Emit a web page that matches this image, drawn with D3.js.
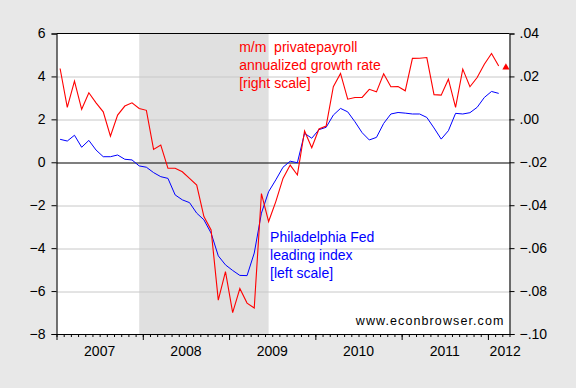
<!DOCTYPE html>
<html>
<head>
<meta charset="utf-8">
<script src="https://cdn.jsdelivr.net/npm/d3@7"></script>
<style>
  body { margin: 0; background: #e8e8e8; }
  svg { display: block; font-family: "Liberation Sans", Arial, sans-serif; }
</style>
</head>
<body>
<script>
// monthly data, first obs 2007M01
var startYear = 2007;
var years = [2007, 2008, 2009, 2010, 2011, 2012];

// Philadelphia Fed leading index (left scale)
var phillyLeading = [1.07, 0.99, 1.26, 0.70, 1.02, 0.57, 0.26, 0.26, 0.34, 0.14,
  0.11, -0.17, -0.23, -0.48, -0.67, -0.75, -1.52, -1.75, -1.88, -2.37,
  -2.68, -3.30, -4.36, -4.78, -5.04, -5.27, -5.28, -4.23, -2.37, -1.37,
  -0.82, -0.23, 0.05, -0.02, 1.35, 1.12, 1.52, 1.63, 2.20, 2.51,
  2.35, 1.89, 1.38, 1.04, 1.16, 1.81, 2.25, 2.32, 2.29, 2.25,
  2.25, 2.09, 1.60, 1.08, 1.47, 2.28, 2.25, 2.31, 2.56, 3.02,
  3.30, 3.21];

// m/m private payroll, annualized growth rate (right scale)
var payrollGrowth = [.0237, .0056, .0178, .0047, .0124, .0077, .0035, -.0078, .0020, .0062,
  .0077, .0051, .0042, -.0140, -.0120, -.0228, -.0228, -.0244, -.0275, -.0306,
  -.0453, -.0515, -.0842, -.0709, -.0900, -.0788, -.0856, -.0879, -.0346, -.0476,
  -.0383, -.0275, -.0213, -.0259, -.0054, -.0132, -.0045, -.0031, .0152, .0214,
  .0094, .0102, .0102, .0140, .0128, .0212, .0152, .0153, .0133, .0284,
  .0285, .0288, .0115, .0113, .0187, .0056, .0234, .0152, .0195, .0257,
  .0307, .0249];
// latest (single) observation, 2012M03
var payrollLatest = {month: 62, value: .0242};

// NBER recession, month index (2007M12 .. 2009M06)
var recession = [11, 29];

var leftTicks = [6, 4, 2, 0, -2, -4, -6, -8];
var rightTicks = [.04, .02, .00, -.02, -.04, -.06, -.08, -.10];

var W = 576, H = 388;
var margin = {top: 33.5, right: 66.5, bottom: 54, left: 56.5},
    width = W - margin.left - margin.right,
    height = H - margin.top - margin.bottom;

var nMonths = 63; // 2007M01 .. 2012M03

var svg = d3.select("body").append("svg")
    .attr("width", W)
    .attr("height", H);

svg.append("rect").attr("width", W).attr("height", H).attr("fill", "#e8e8e8");

var x = d3.scaleLinear().domain([0, nMonths]).range([0, width]);
var yL = d3.scaleLinear().domain([-8, 6]).range([height, 0]);
var yR = d3.scaleLinear().domain([-.10, .04]).range([height, 0]);

var g = svg.append("g")
    .attr("transform", "translate(" + margin.left + "," + margin.top + ")");

// plot background
g.append("rect")
    .attr("width", width)
    .attr("height", height)
    .attr("fill", "#fff");

// recession shading (mid-month to mid-month)
g.append("rect")
    .attr("x", x(recession[0] + 0.5))
    .attr("width", x(recession[1] + 0.5) - x(recession[0] + 0.5))
    .attr("y", 0)
    .attr("height", height)
    .attr("fill", "#e0e0e0");

// grid lines
g.selectAll(".grid")
    .data(leftTicks.filter(function(d) { return d !== 0 && d !== 6 && d !== -8; }))
    .enter().append("line")
    .attr("x1", 0).attr("x2", width)
    .attr("y1", function(d) { return Math.round(yL(d)) + 0.5; })
    .attr("y2", function(d) { return Math.round(yL(d)) + 0.5; })
    .attr("stroke", "#c8c8c8")
    .attr("stroke-width", 1);

// zero line
g.append("line")
    .attr("x1", 0).attr("x2", width)
    .attr("y1", Math.round(yL(0)) + 0.5)
    .attr("y2", Math.round(yL(0)) + 0.5)
    .attr("stroke", "#000")
    .attr("stroke-width", 1.1);

// series
var lineL = d3.line()
    .x(function(d, i) { return x(i + 0.5); })
    .y(function(d) { return yL(d); });
var lineR = d3.line()
    .x(function(d, i) { return x(i + 0.5); })
    .y(function(d) { return yR(d); });

g.append("path")
    .attr("d", lineL(phillyLeading))
    .attr("fill", "none")
    .attr("stroke", "#0000ff")
    .attr("stroke-width", 1);

g.append("path")
    .attr("d", lineR(payrollGrowth))
    .attr("fill", "none")
    .attr("stroke", "#ff0000")
    .attr("stroke-width", 1.1);

g.append("path")
    .attr("d", d3.symbol().type(d3.symbolTriangle).size(22)())
    .attr("transform", "translate(" + x(payrollLatest.month + 0.5) + "," + yR(payrollLatest.value) + ")")
    .attr("fill", "#ff0000");

// top border
g.append("line")
    .attr("x1", 0).attr("x2", width)
    .attr("y1", 0).attr("y2", 0)
    .attr("stroke", "#000");

// axes
var fmtR = function(d) {
  var s = d3.format(".2f")(d);
  return s.replace("0.", ".");
};

var axL = g.append("g")
    .call(d3.axisLeft(yL).tickValues(leftTicks).tickSize(5).tickPadding(6).tickFormat(d3.format("d")));
var axR = g.append("g")
    .attr("transform", "translate(" + width + ",0)")
    .call(d3.axisRight(yR).tickValues(rightTicks).tickSize(5).tickPadding(5).tickFormat(fmtR));

// bottom: monthly minor ticks, yearly major ticks
var axB = g.append("g")
    .attr("transform", "translate(0," + height + ")")
    .call(d3.axisBottom(x).tickValues(d3.range(0, nMonths + 1)).tickSize(3).tickSizeOuter(0).tickFormat(""));
var axB2 = g.append("g")
    .attr("transform", "translate(0," + height + ")")
    .call(d3.axisBottom(x).tickValues(years.map(function(yr) { return (yr - startYear) * 12; })).tickSize(6).tickSizeOuter(0).tickFormat(""));

[axL, axR, axB, axB2].forEach(function(a) {
  a.select(".domain").attr("stroke", "#000").attr("stroke-width", 1.1);
  a.selectAll(".tick line").attr("stroke", "#000").attr("stroke-width", 1);
  a.selectAll("text").attr("fill", "#000").style("font-size", "14px")
    .style("font-family", "'Liberation Sans', Arial, sans-serif");
});

// year labels centered on each year
g.selectAll(".yearlab")
    .data(years)
    .enter().append("text")
    .attr("x", function(yr) {
      var c = (yr - startYear) * 12 + 6;
      return x(Math.min(c, nMonths - 0.6));
    })
    .attr("y", height + 21.5)
    .attr("text-anchor", "middle")
    .style("font-size", "14px")
    .text(function(yr) { return yr; });

// annotations
var red = g.append("text")
    .attr("fill", "#ff0000")
    .style("font-size", "14px");
["m/m  privatepayroll", "annualized growth rate", "[right scale]"].forEach(function(t, i) {
  red.append("tspan")
    .attr("x", x(25.4))
    .attr("y", 18.5 + i * 18)
    .attr("xml:space", "preserve")
    .text(t);
});

var blue = g.append("text")
    .attr("fill", "#0000ff")
    .style("font-size", "14px");
["Philadelphia Fed", "leading index", "[left scale]"].forEach(function(t, i) {
  blue.append("tspan")
    .attr("x", x(29.7))
    .attr("y", 208.5 + i * 18)
    .text(t);
});

g.append("text")
    .attr("x", width - 5)
    .attr("y", 291.5)
    .attr("text-anchor", "end")
    .style("font-size", "12.5px")
    .style("letter-spacing", "1.1px")
    .attr("fill", "#000")
    .text("www.econbrowser.com");
</script>
</body>
</html>
